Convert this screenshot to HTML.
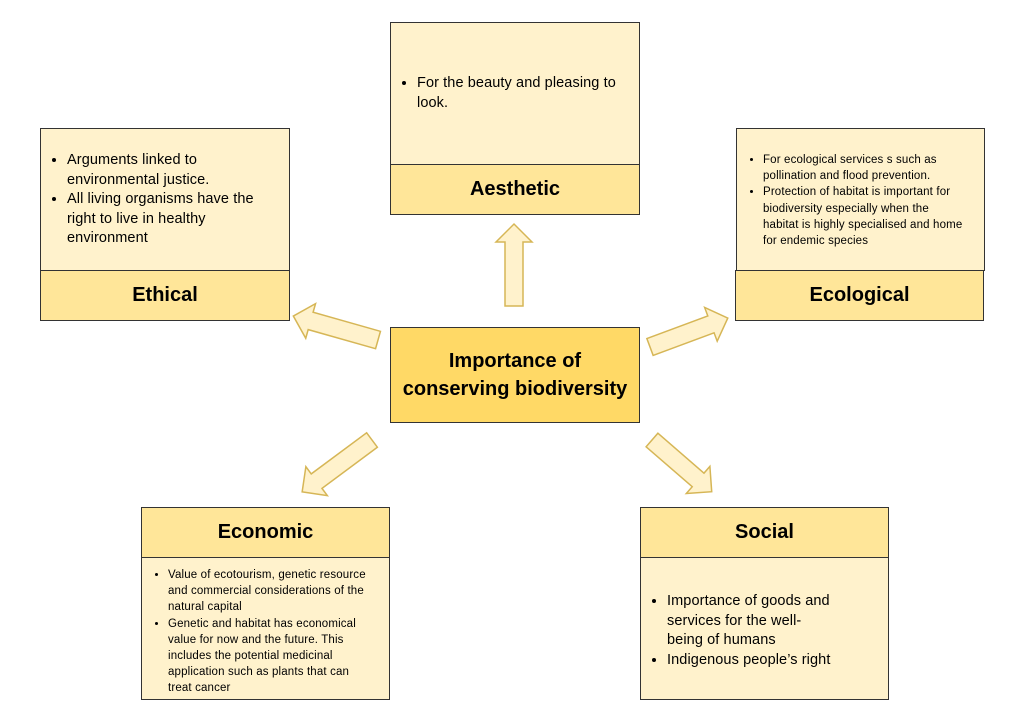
<!DOCTYPE html>
<html><head><meta charset="utf-8"><style>
body{margin:0;width:1023px;height:720px;background:#fff;position:relative;font-family:"Liberation Sans",sans-serif;overflow:hidden}
.b{position:absolute;box-sizing:border-box;border:1.5px solid #333;background:#FFF2CC}
.h{position:absolute;box-sizing:border-box;border:1.5px solid #333;background:#FFE699;font-weight:bold;font-size:20px;display:flex;align-items:center;justify-content:center;color:#000}
ul{margin:0;padding-left:26px;list-style:disc;white-space:nowrap}
li{margin:0}
.s13{font-size:14.5px;line-height:19.5px;letter-spacing:0.1px}
.s11{font-size:11.5px;line-height:16.2px;letter-spacing:0.15px}
</style></head><body>
<svg width="1023" height="720" style="position:absolute;left:0;top:0">
<g fill="#FFF2CC" stroke="#D6B656" stroke-width="1.5">
<polygon transform="translate(514,306) rotate(-90)" points="0,-9 64,-9 64,-18 82,0 64,18 64,9 0,9"/>
<polygon transform="translate(378,340) rotate(195.8)" points="0,-9 70,-9 70,-18 88,0 70,18 70,9 0,9"/>
<polygon transform="translate(650,347) rotate(-20.4)" points="0,-9 65,-9 65,-18 83,0 65,18 65,9 0,9"/>
<polygon transform="translate(372,440) rotate(143.4)" points="0,-9 69,-9 69,-18 87,0 69,18 69,9 0,9"/>
<polygon transform="translate(652,440) rotate(40.9)" points="0,-9 61,-9 61,-18 79,0 61,18 61,9 0,9"/>
</g></svg>

<div class="b" style="left:390px;top:22px;width:250px;height:143px;padding:51px 0 0 0"><ul class="s13"><li>For the beauty and pleasing to<br>look.</li></ul></div>
<div class="h" style="left:390px;top:164px;width:250px;height:51px">Aesthetic</div>

<div class="b" style="left:40px;top:128px;width:250px;height:143px;padding:22px 0 0 0"><ul class="s13"><li>Arguments linked to<br>environmental justice.</li><li>All living organisms have the<br>right to live in healthy<br>environment</li></ul></div>
<div class="h" style="left:40px;top:270px;width:250px;height:51px">Ethical</div>

<div class="b" style="left:736px;top:128px;width:249px;height:143px;padding:23px 0 0 0"><ul class="s11"><li>For ecological services s such as<br>pollination and flood prevention.</li><li>Protection of habitat is important for<br>biodiversity especially when the<br>habitat is highly specialised and home<br>for endemic species</li></ul></div>
<div class="h" style="left:735px;top:270px;width:249px;height:51px">Ecological</div>

<div class="h" style="left:390px;top:327px;width:250px;height:96px;background:#FFD966;text-align:center;line-height:28px">Importance of<br>conserving biodiversity</div>

<div class="h" style="left:141px;top:507px;width:249px;height:51px">Economic</div>
<div class="b" style="left:141px;top:557px;width:249px;height:143px;padding:9px 0 0 0"><ul class="s11"><li>Value of ecotourism, genetic resource<br>and commercial considerations of the<br>natural capital</li><li>Genetic and habitat has economical<br>value for now and the future. This<br>includes the potential medicinal<br>application such as plants that can<br>treat cancer</li></ul></div>

<div class="h" style="left:640px;top:507px;width:249px;height:51px">Social</div>
<div class="b" style="left:640px;top:557px;width:249px;height:143px;padding:34px 0 0 0"><ul class="s13"><li>Importance of goods and<br>services for the well-<br>being of humans</li><li>Indigenous people’s right</li></ul></div>
</body></html>
